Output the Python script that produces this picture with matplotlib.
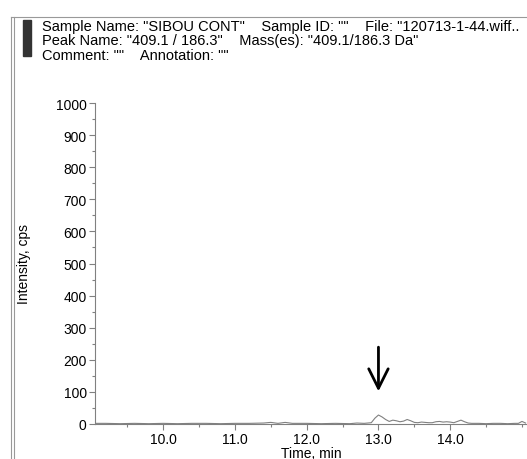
import matplotlib
matplotlib.use("Agg")
import matplotlib.pyplot as plt
from matplotlib.patches import Rectangle
from matplotlib.lines import Line2D
from matplotlib.ticker import MultipleLocator, FixedLocator, FormatStrFormatter

plt.rcParams['font.family'] = ['Liberation Sans', 'DejaVu Sans']

# XIC trace (time in min, intensity in cps)
time = [9.05, 9.2, 9.4, 9.6, 9.8, 10.0, 10.2, 10.4, 10.6, 10.8, 11.0, 11.2,
        11.4, 11.5, 11.6, 11.7, 11.8, 12.0, 12.2, 12.4, 12.6, 12.7, 12.8,
        12.85, 12.9, 12.95, 13.0, 13.05, 13.1, 13.15, 13.2, 13.25, 13.3,
        13.35, 13.4, 13.45, 13.5, 13.55, 13.6, 13.65, 13.7, 13.75, 13.8,
        13.85, 13.9, 13.95, 14.0, 14.05, 14.1, 14.15, 14.2, 14.25, 14.3,
        14.4, 14.5, 14.6, 14.7, 14.8, 14.9, 14.95, 15.0, 15.05]
intensity = [2, 2, 1, 2, 1, 2, 1, 2, 2, 1, 2, 2,
             3, 5, 2, 5, 2, 2, 1, 2, 1, 3, 2,
             3, 4, 18, 28, 22, 14, 8, 12, 10, 7,
             9, 14, 10, 5, 4, 6, 5, 4, 4, 7,
             8, 6, 7, 6, 4, 8, 12, 7, 3, 2,
             2, 1, 2, 2, 1, 2, 2, 8, 3]
x_ticks = [10.0, 11.0, 12.0, 13.0, 14.0]

header = ['Sample Name: "SIBOU CONT"    Sample ID: ""    File: "120713-1-44.wiff..',
          'Peak Name: "409.1 / 186.3"    Mass(es): "409.1/186.3 Da"',
          'Comment: ""    Annotation: ""']

W, H = 527, 460
fig = plt.figure(figsize=(W / 100, H / 100), dpi=100)

# pane frame: double line on the left, single line on top
fig.add_artist(Line2D([11 / W, 11 / W], [0, 1 - 18 / H], color='#999999', lw=0.8))
fig.add_artist(Line2D([14 / W, 14 / W], [0, 1 - 18 / H], color='#999999', lw=0.8))
fig.add_artist(Line2D([11 / W, 1], [1 - 18 / H, 1 - 18 / H], color='#999999', lw=0.8))
fig.add_artist(Rectangle((23 / W, 1 - 57 / H), 8 / W, 36 / H, color='#333333'))

for i, line in enumerate(header):
    fig.text(42 / W, 1 - (27 + 14.5 * i) / H, line, fontsize=10.5, va='center', ha='left')

ax = fig.add_axes([95 / W, 35 / H, 1 - 95 / W, (425 - 104) / H])
ax.plot(time, intensity, color='#808080', lw=0.8)
ax.set_xlim(9.05, 15.07)
ax.set_ylim(0, 1000)

for s in ['top', 'right']:
    ax.spines[s].set_visible(False)
for s in ['left', 'bottom']:
    ax.spines[s].set_color('#808080')
    ax.spines[s].set_linewidth(0.8)

ax.xaxis.set_major_locator(FixedLocator(x_ticks))
ax.xaxis.set_minor_locator(MultipleLocator(0.5))
ax.yaxis.set_major_locator(MultipleLocator(100))
ax.yaxis.set_minor_locator(MultipleLocator(50))
ax.xaxis.set_major_formatter(FormatStrFormatter('%.1f'))
ax.tick_params(which='both', color='#808080', labelsize=10, width=0.8)
ax.tick_params(which='major', length=4, pad=2)
ax.tick_params(which='minor', length=2)

ax.set_xlabel('Time, min', fontsize=10, labelpad=0)
ax.set_ylabel('Intensity, cps', fontsize=10, labelpad=18)

ax.annotate('', xy=(13.0, 93), xytext=(13.0, 248),
            arrowprops=dict(arrowstyle='->,head_length=1.4,head_width=0.7',
                            color='black', lw=2))

fig.savefig('out.png', dpi=100)
